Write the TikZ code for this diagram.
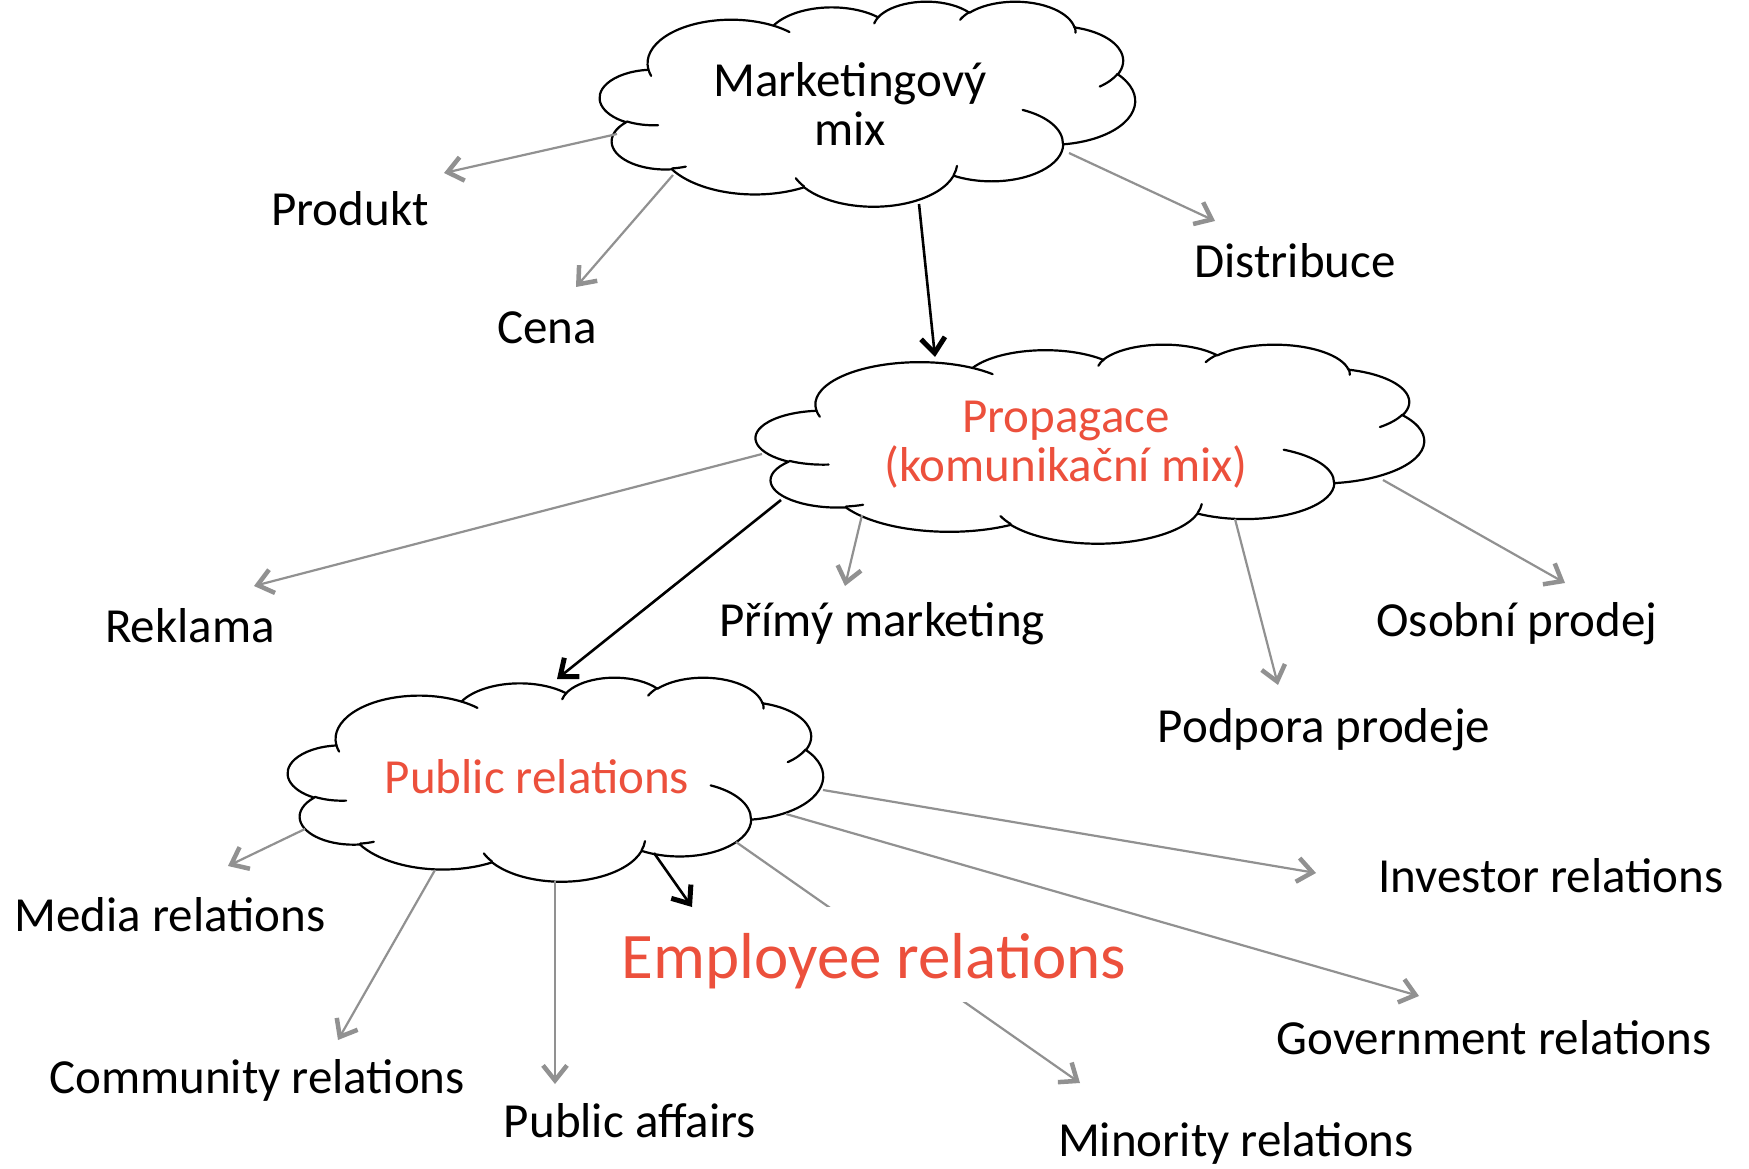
\documentclass[tikz,border=0pt]{standalone}
\usepackage{fontspec}
\setmainfont{Carlito}
\usetikzlibrary{arrows.meta}
\definecolor{pred}{RGB}{236,80,60}
\definecolor{lgray}{RGB}{145,145,145}
\tikzset{
  declare function={vp(\qa,\qb,\qc)=\qc+(atan2(\qa*sin(\qc),\qb*cos(\qc))-\qc)-360*round((atan2(\qa*sin(\qc),\qb*cos(\qc))-\qc)/360);},
  carc/.style n args={4}{x radius=#1, y radius=#2, start angle={vp(#1,#2,#3)}, end angle={vp(#1,#2,#3+#4)}},
  cloudline/.style={line width=2.2pt, line join=round, line cap=round},
  cloudbox/.style n args={4}{shift={(#1,#2)}, x=#3pt, y=-#4pt},
  cloudnode/.style n args={2}{minimum width=#1pt, minimum height=#2pt, inner sep=0pt, outer sep=0pt},
  lbl/.style={inner sep=0pt, anchor=base, font=\fontsize{49}{49}\selectfont},
  garrow/.style={draw=lgray, line width=2.2pt, -{Straight Barb[length=15pt,width=24pt,line width=4.5pt]}},
  barrow/.style={draw=black, line width=2.6pt, -{Straight Barb[length=15pt,width=24pt,line width=5pt]}},
}
\newcommand\mycloud{%
  \draw[cloudline, fill=white] (3.900,14.370)
    arc[carc={6.753}{9.190}{-190.48748}{123.78053}]
    arc[carc={5.333}{7.267}{-144.10238}{89.94523}]
    arc[carc={4.365}{5.945}{-145.80792}{99.72302}]
    arc[carc={4.857}{6.595}{-130.98607}{117.24173}]
    arc[carc={5.333}{7.273}{-78.70888}{109.02692}]
    arc[carc={6.775}{9.220}{-46.26725}{130.269}]
    arc[carc={5.785}{7.867}{0.62502}{114.03333}]
    arc[carc={6.752}{9.215}{22.4516}{115.17255}]
    arc[carc={7.720}{10.543}{66.24263}{75.71102}]
    arc[carc={4.360}{5.918}{-274.94208}{146.73557}]
    arc[carc={4.345}{5.945}{-246.8285}{152.51885}]
    -- cycle;
  \draw[cloudline]
    (4.693,26.177) arc[carc={4.345}{5.945}{86.742}{26.4295}]
    (6.928,34.899) arc[carc={4.360}{5.918}{73.61047}{11.44747}]
    (16.478,39.090) arc[carc={6.752}{9.215}{137.62415}{14.0811}]
    (28.827,34.751) arc[carc={6.752}{9.215}{6.45327}{15.99835}]
    (34.129,22.954) arc[carc={5.785}{7.867}{-70.29235}{70.91737}]
    (41.798,15.354) arc[carc={5.333}{7.273}{30.31803}{27.7515}]
    (38.324,5.426) arc[carc={4.857}{6.595}{-13.74433}{14.8589}]
    (29.078,3.952) arc[carc={4.857}{6.595}{-149.18145}{18.19537}]
    (22.141,4.720) arc[carc={4.365}{5.945}{-163.49427}{17.68635}]
    (14.000,5.192) arc[carc={6.753}{9.190}{-66.70695}{12.31935}]
    (4.127,15.789) arc[carc={6.753}{9.190}{157.65435}{11.85817}];
}
\begin{document}
\begin{tikzpicture}[x=1pt,y=-1pt]
\fill[white] (0,0) rectangle (1749,1169);
\useasboundingbox (0,0) rectangle (1749,1169);

% clouds
\begin{scope}[cloudbox={600}{1}{12.3843}{4.7454}] \mycloud \end{scope}
\begin{scope}[cloudbox={756}{344}{15.463}{4.6065}] \mycloud \end{scope}
\begin{scope}[cloudbox={288}{677}{12.3843}{4.7222}] \mycloud \end{scope}
\node[cloudnode={535}{205}] (mk) at (867.5,103.5) {};
\node[cloudnode={668}{199}] (pg) at (1090,443.5) {};
\node[cloudnode={535}{204}] (pr) at (555.5,779) {};

% cloud texts (base = baseline of the last line)
\node[lbl, align=center] (mkt) at (850,146) {Marketingový\\mix};
\node[lbl, align=center, text=pred] (pgt) at (1066,481) {Propagace\\(komunikační mix)};
\node[lbl, text=pred] (prt) at (537,793) {Public relations};

% labels
\node[lbl] (prod) at (350,226) {Produkt};
\node[lbl] (cena) at (547,343) {Cena};
\node[lbl] (dist) at (1295,278) {Distribuce};
\node[lbl] (rekl) at (190,642) {Reklama};
\node[lbl] (prim) at (882,636) {Přímý marketing};
\node[lbl] (osob) at (1517,636) {Osobní prodej};
\node[lbl] (podp) at (1324,742) {Podpora prodeje};
\node[lbl] (media) at (170,931) {Media relations};
\node[lbl] (comm) at (257,1093) {Community relations};
\node[lbl] (paff) at (630,1137) {Public affairs};
\node[lbl] (inv) at (1551,892) {Investor relations};
\node[lbl] (gov) at (1494,1054) {Government relations};
\node[lbl] (mino) at (1236,1156) {Minority relations};

% line hidden partly behind the Employee relations text box
\draw[garrow] ([shift={(180.5,63)}]pr.center) -- ([shift={(-156,-73)}]mino.base);
\node[inner sep=0pt, anchor=base, fill=white, text=pred, text height=71pt, text depth=24pt,
      font=\fontsize{65}{65}\selectfont] (empl) at (874,978) {Employee relations};

% connectors
\draw[garrow] ([shift={(-250.5,30.5)}]mk.center) -- ([shift={(94,-53)}]prod.base);
\draw[garrow] ([shift={(-194.5,71.5)}]mk.center) -- ([shift={(29,-56)}]cena.base);
\draw[garrow] ([shift={(201.5,49.5)}]mk.center) -- ([shift={(-80,-57)}]dist.base);
\draw[barrow] ([shift={(51.5,100.5)}]mk.center) -- ([shift={(-155,-86.5)}]pg.center);
\draw[garrow] ([shift={(-328,10.5)}]pg.center) -- ([shift={(64,-56)}]rekl.base);
\draw[garrow] ([shift={(-228,71.5)}]pg.center) -- ([shift={(-37,-50)}]prim.base);
\draw[garrow] ([shift={(145,75.5)}]pg.center) -- ([shift={(-46,-57)}]podp.base);
\draw[garrow] ([shift={(293,36.5)}]pg.center) -- ([shift={(48,-53)}]osob.base);
\draw[barrow] ([shift={(-309,56.5)}]pg.center) -- ([shift={(1.5,-100)}]pr.center);
\draw[garrow] ([shift={(-250.5,50)}]pr.center) -- ([shift={(58,-65)}]media.base);
\draw[garrow] ([shift={(-120.5,91)}]pr.center) -- ([shift={(81,-53)}]comm.base);
\draw[garrow] ([shift={(-0.5,102)}]pr.center) -- ([shift={(-75,-53)}]paff.base);
\draw[barrow] ([shift={(98.5,74)}]pr.center) -- ([shift={(-182,-71)}]empl.base);
\draw[garrow] ([shift={(267.5,11)}]pr.center) -- ([shift={(-235,-19)}]inv.base);
\draw[garrow] ([shift={(230.5,35)}]pr.center) -- ([shift={(-75,-58)}]gov.base);
\end{tikzpicture}
\end{document}
